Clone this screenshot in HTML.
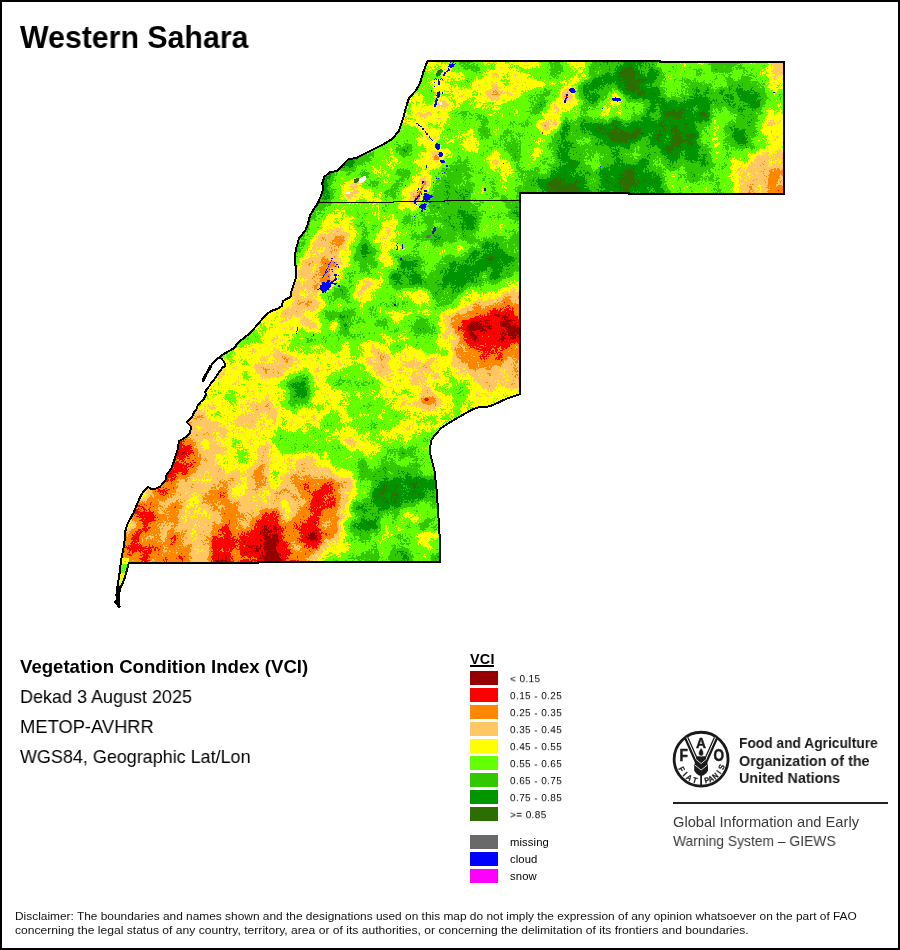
<!DOCTYPE html>
<html>
<head>
<meta charset="utf-8">
<title>Western Sahara - Vegetation Condition Index</title>
<style>
html,body{margin:0;padding:0;background:#fff;}
body{width:900px;height:950px;position:relative;overflow:hidden;font-family:"Liberation Sans",sans-serif;color:#000;}
.frame{position:absolute;left:0;top:0;width:900px;height:950px;box-sizing:border-box;border:2px solid #000;}
.t{position:absolute;white-space:nowrap;line-height:1;transform-origin:0 0;will-change:transform;}
#title{left:20px;top:22px;font-size:30.5px;font-weight:bold;transform:scaleX(0.993);}
.info{left:19.5px;font-size:18.6px;}
#i1{top:658px;font-weight:bold;}
#i2{top:688px;transform:scaleX(0.967);}
#i3{top:718px;transform:scaleX(0.986);}
#i4{top:748px;transform:scaleX(0.9655);}
#vci{left:470px;top:652px;font-size:14.4px;font-weight:bold;letter-spacing:0.25px;}
#vciu{position:absolute;left:470px;top:665.4px;width:23.7px;height:1.15px;background:#000;}
.sw{position:absolute;left:470px;width:28px;height:14px;}
.lb{left:509.6px;font-size:10px;letter-spacing:0.4px;transform:scaleY(0.9);}
.lb2{left:509.5px;font-size:11.3px;letter-spacing:0.1px;}
.fao{left:739px;font-size:15px;font-weight:bold;color:#1a1a1a;transform:scaleX(0.955);}
.giews{left:672.5px;font-size:14.4px;color:#3a3a3a;}
#rule{position:absolute;left:673px;top:802px;width:215px;height:2px;background:#222;}
.disc{left:15px;font-size:11.2px;color:#111;}
svg{position:absolute;left:0;top:0;}
</style>
</head>
<body>
<div class="frame"></div>

<div id="title" class="t">Western Sahara</div>

<svg width="900" height="950" viewBox="0 0 900 950">
<defs>
<clipPath id="terr"><path d="M427.5 61.0L660.0 61.0L660.0 62.0L784.0 62.0L784.0 194.0L629.0 194.0L629.0 193.0L520.0 193.0L520.0 394.2L512.9 396.6L505.6 399.1L498.2 402.7L490.9 405.8L486.0 407.0L478.7 407.3L473.8 408.8L468.9 411.3L461.6 415.6L454.2 419.8L446.9 424.1L440.8 428.4L437.1 432.7L433.4 437.0L431.0 440.6L430.4 446.1L429.6 451.0L431.0 457.1L432.8 464.5L434.7 471.8L436.7 491.0L438.2 513.0L439.6 535.5L440.4 553.0L440.4 562.0L258.0 562.0L258.0 563.0L128.9 563.0L127.1 569.1L125.3 576.2L123.1 582.4L120.9 587.0L119.7 591.0L118.7 597.0L118.9 603.0L119.3 607.2L118.0 606.6L117.3 603.6L115.0 602.2L116.9 599.5L116.4 595.0L117.0 590.0L117.7 585.1L118.6 579.8L119.9 570.9L120.8 562.0L121.7 556.7L123.5 547.8L124.8 538.9L125.3 531.0L127.8 523.3L133.3 513.3L137.8 502.2L142.2 493.3L147.8 486.7L151.1 488.9L155.0 488.9L160.0 486.7L165.6 480.0L166.7 474.4L171.1 468.9L174.4 460.0L177.8 448.9L178.9 441.1L183.3 438.9L190.0 433.3L191.1 426.7L186.7 422.2L189.8 419.1L192.4 416.4L194.2 412.0L196.9 408.4L197.8 405.3L200.4 402.2L204.0 398.7L205.8 395.1L205.3 391.6L206.7 389.3L209.3 386.2L211.1 382.7L213.8 380.0L216.4 376.4L219.1 372.0L222.7 367.6L225.3 365.8L224.4 362.2L221.8 359.1L219.5 357.3L221.8 355.1L228.0 351.6L235.0 347.5L236.0 345.3L241.3 340.0L250.0 333.3L253.3 329.4L257.8 324.4L263.3 317.8L267.8 313.3L272.2 310.6L278.9 308.3L282.2 305.6L282.8 301.1L287.8 298.3L290.9 296.7L291.1 292.2L293.3 285.6L295.6 278.9L296.1 274.4L296.1 267.8L295.0 263.3L295.0 255.6L296.1 247.8L297.8 243.3L298.9 238.3L302.2 234.4L305.6 230.0L307.8 224.4L310.0 215.6L313.3 210.0L317.8 203.3L321.1 195.6L323.3 188.9L322.2 183.3L324.4 176.7L330.0 172.2L336.7 171.1L343.3 164.4L347.8 159.6L356.7 157.8L370.0 151.1L383.3 144.4L392.2 138.9L398.9 131.1L403.3 117.8L405.6 108.9L409.0 97.8L415.5 91.0L420.0 83.3L423.3 72.2Z"/></clipPath>
<filter id="vcif" x="90" y="40" width="720" height="580" filterUnits="userSpaceOnUse" color-interpolation-filters="sRGB">
  <feGaussianBlur in="SourceGraphic" stdDeviation="3.6" result="b"/>
  <feTurbulence type="fractalNoise" baseFrequency="0.09" numOctaves="2" seed="11" result="t1"/>
  <feColorMatrix in="t1" type="matrix" values="1 0 0 0 0  1 0 0 0 0  1 0 0 0 0  0 0 0 0 1" result="n1"/>
  <feTurbulence type="fractalNoise" baseFrequency="0.55" numOctaves="2" seed="5" result="t2"/>
  <feColorMatrix in="t2" type="matrix" values="1 0 0 0 0  1 0 0 0 0  1 0 0 0 0  0 0 0 0 1" result="n2"/>
  <feComposite in="b" in2="n1" operator="arithmetic" k1="0" k2="1" k3="0.26" k4="-0.13" result="c1"/>
  <feComposite in="c1" in2="n2" operator="arithmetic" k1="0" k2="1" k3="0.18" k4="-0.09" result="c2"/>
  <feComponentTransfer in="c2">
    <feFuncR type="discrete" tableValues="0.5882 1.0000 1.0000 1.0000 1.0000 0.3922 0.1961 0.0000 0.1765"/>
    <feFuncG type="discrete" tableValues="0.0000 0.0000 0.5333 0.7843 1.0000 1.0000 0.7843 0.5882 0.4314"/>
    <feFuncB type="discrete" tableValues="0.0000 0.0000 0.0000 0.3922 0.0000 0.0000 0.0000 0.0000 0.0000"/>
    <feFuncA type="discrete" tableValues="1 1"/>
  </feComponentTransfer>
</filter>
</defs>
<g clip-path="url(#terr)">
<g filter="url(#vcif)">
<rect x="90" y="40" width="720" height="580" fill="#8e8e8e"/>
<path fill="#0e0e0e" d="M470 320h20v10h-20zM500 320h50v10h-50zM500 330h50v10h-50zM260 530h20v10h-20zM310 530h10v10h-10zM260 540h20v10h-20zM260 550h20v10h-20zM260 560h20v10h-20zM260 570h20v10h-20zM260 580h20v10h-20zM260 590h20v10h-20z"/>
<path fill="#2a2a2a" d="M470 310h80v10h-80zM460 320h10v10h-10zM490 320h10v10h-10zM460 330h40v10h-40zM470 340h40v10h-40zM490 350h10v10h-10zM150 440h40v10h-40zM140 450h50v10h-50zM160 460h30v10h-30zM160 470h10v10h-10zM160 480h10v10h-10zM320 480h10v10h-10zM310 490h30v10h-30zM320 500h10v10h-10zM140 510h10v10h-10zM260 510h20v10h-20zM300 510h20v10h-20zM140 520h10v10h-10zM250 520h30v10h-30zM300 520h20v10h-20zM130 530h10v10h-10zM220 530h10v10h-10zM240 530h20v10h-20zM300 530h10v10h-10zM130 540h10v10h-10zM210 540h50v10h-50zM280 540h10v10h-10zM300 540h20v10h-20zM140 550h10v10h-10zM210 550h20v10h-20zM240 550h20v10h-20zM280 550h10v10h-10zM140 560h10v10h-10zM210 560h20v10h-20zM240 560h20v10h-20zM280 560h10v10h-10zM210 570h20v10h-20zM240 570h20v10h-20zM280 570h10v10h-10zM210 580h20v10h-20zM240 580h20v10h-20zM280 580h10v10h-10zM210 590h20v10h-20zM240 590h20v10h-20zM280 590h10v10h-10z"/>
<path fill="#474747" d="M560 90h10v10h-10zM770 170h10v10h-10zM770 180h30v10h-30zM410 190h10v10h-10zM770 190h30v10h-30zM770 200h30v10h-30zM770 210h30v10h-30zM770 220h20v10h-20zM330 240h10v10h-10zM320 260h20v10h-20zM320 270h10v10h-10zM320 280h10v10h-10zM490 300h60v10h-60zM460 310h10v10h-10zM450 320h10v10h-10zM460 340h10v10h-10zM510 340h40v10h-40zM460 350h30v10h-30zM500 350h50v10h-50zM470 360h30v10h-30zM480 380h10v10h-10zM420 390h10v10h-10zM160 420h30v10h-30zM150 430h40v10h-40zM190 450h10v10h-10zM140 460h20v10h-20zM190 460h10v10h-10zM130 470h30v10h-30zM170 470h20v10h-20zM230 470h10v10h-10zM250 470h20v10h-20zM300 470h10v10h-10zM120 480h10v10h-10zM150 480h10v10h-10zM170 480h10v10h-10zM220 480h10v10h-10zM250 480h10v10h-10zM290 480h30v10h-30zM330 480h10v10h-10zM110 490h20v10h-20zM150 490h20v10h-20zM200 490h30v10h-30zM300 490h10v10h-10zM100 500h60v10h-60zM170 500h10v10h-10zM210 500h30v10h-30zM270 500h10v10h-10zM300 500h20v10h-20zM330 500h10v10h-10zM130 510h10v10h-10zM150 510h30v10h-30zM220 510h20v10h-20zM320 510h20v10h-20zM150 520h10v10h-10zM170 520h10v10h-10zM220 520h20v10h-20zM280 520h20v10h-20zM330 520h10v10h-10zM100 530h30v10h-30zM140 530h20v10h-20zM170 530h10v10h-10zM210 530h10v10h-10zM230 530h10v10h-10zM280 530h20v10h-20zM320 530h20v10h-20zM100 540h30v10h-30zM140 540h50v10h-50zM120 550h20v10h-20zM150 550h40v10h-40zM230 550h10v10h-10zM290 550h20v10h-20zM120 560h20v10h-20zM150 560h40v10h-40zM230 560h10v10h-10zM290 560h20v10h-20zM150 570h40v10h-40zM230 570h10v10h-10zM290 570h20v10h-20zM160 580h30v10h-30zM230 580h10v10h-10zM290 580h20v10h-20zM170 590h20v10h-20zM230 590h10v10h-10zM290 590h20v10h-20z"/>
<path fill="#636363" d="M770 50h30v10h-30zM770 60h30v10h-30zM770 70h30v10h-30zM490 80h10v10h-10zM490 90h10v10h-10zM440 100h10v10h-10zM420 110h10v10h-10zM550 110h10v10h-10zM540 120h20v10h-20zM770 120h10v10h-10zM430 150h10v10h-10zM760 150h40v10h-40zM750 160h50v10h-50zM420 170h10v10h-10zM740 170h30v10h-30zM780 170h20v10h-20zM350 180h10v10h-10zM420 180h10v10h-10zM740 180h30v10h-30zM350 190h10v10h-10zM740 190h30v10h-30zM740 200h30v10h-30zM740 210h30v10h-30zM740 220h30v10h-30zM320 230h30v10h-30zM380 230h10v10h-10zM310 240h20v10h-20zM340 240h10v10h-10zM310 250h30v10h-30zM300 260h20v10h-20zM300 270h20v10h-20zM330 270h10v10h-10zM260 280h60v10h-60zM360 280h10v10h-10zM290 290h30v10h-30zM360 290h10v10h-10zM500 290h50v10h-50zM290 300h30v10h-30zM470 300h20v10h-20zM280 310h30v10h-30zM450 310h10v10h-10zM310 320h10v10h-10zM440 320h10v10h-10zM440 330h20v10h-20zM450 340h10v10h-10zM270 350h20v10h-20zM370 350h20v10h-20zM450 350h10v10h-10zM250 360h50v10h-50zM370 360h20v10h-20zM400 360h30v10h-30zM450 360h20v10h-20zM500 360h50v10h-50zM220 370h10v10h-10zM260 370h20v10h-20zM380 370h10v10h-10zM410 370h30v10h-30zM470 370h80v10h-80zM500 380h50v10h-50zM260 390h10v10h-10zM430 390h10v10h-10zM250 400h20v10h-20zM420 400h20v10h-20zM160 410h50v10h-50zM240 410h40v10h-40zM190 420h30v10h-30zM230 420h30v10h-30zM190 430h40v10h-40zM190 440h10v10h-10zM210 440h10v10h-10zM260 440h10v10h-10zM350 440h10v10h-10zM200 450h20v10h-20zM260 450h10v10h-10zM200 460h20v10h-20zM250 460h20v10h-20zM290 460h30v10h-30zM190 470h10v10h-10zM210 470h20v10h-20zM280 470h20v10h-20zM310 470h30v10h-30zM130 480h20v10h-20zM180 480h40v10h-40zM260 480h10v10h-10zM280 480h10v10h-10zM340 480h10v10h-10zM130 490h10v10h-10zM170 490h20v10h-20zM240 490h20v10h-20zM270 490h30v10h-30zM340 490h10v10h-10zM160 500h10v10h-10zM180 500h10v10h-10zM200 500h10v10h-10zM240 500h10v10h-10zM260 500h10v10h-10zM290 500h10v10h-10zM340 500h10v10h-10zM120 510h10v10h-10zM180 510h10v10h-10zM200 510h20v10h-20zM240 510h20v10h-20zM290 510h10v10h-10zM130 520h10v10h-10zM160 520h10v10h-10zM180 520h40v10h-40zM240 520h10v10h-10zM320 520h10v10h-10zM160 530h10v10h-10zM180 530h30v10h-30zM190 540h20v10h-20zM290 540h10v10h-10zM320 540h10v10h-10zM110 550h10v10h-10zM190 550h20v10h-20zM310 550h10v10h-10zM190 560h20v10h-20zM310 560h10v10h-10zM140 570h10v10h-10zM190 570h20v10h-20zM310 570h10v10h-10zM150 580h10v10h-10zM190 580h20v10h-20zM310 580h10v10h-10zM160 590h10v10h-10zM190 590h20v10h-20zM310 590h10v10h-10z"/>
<path fill="#808080" d="M430 50h20v10h-20zM490 50h20v10h-20zM520 50h20v10h-20zM570 50h10v10h-10zM430 60h20v10h-20zM490 60h20v10h-20zM520 60h20v10h-20zM570 60h10v10h-10zM440 70h20v10h-20zM480 70h50v10h-50zM570 70h20v10h-20zM430 80h30v10h-30zM470 80h20v10h-20zM500 80h40v10h-40zM560 80h10v10h-10zM770 80h30v10h-30zM380 90h40v10h-40zM440 90h50v10h-50zM500 90h20v10h-20zM570 90h10v10h-10zM610 90h10v10h-10zM410 100h30v10h-30zM480 100h30v10h-30zM550 100h30v10h-30zM610 100h20v10h-20zM410 110h10v10h-10zM430 110h20v10h-20zM540 110h10v10h-10zM600 110h10v10h-10zM760 110h20v10h-20zM410 120h40v10h-40zM760 120h10v10h-10zM780 120h20v10h-20zM420 130h20v10h-20zM460 130h10v10h-10zM540 130h10v10h-10zM760 130h40v10h-40zM420 140h20v10h-20zM460 140h20v10h-20zM770 140h30v10h-30zM420 150h10v10h-10zM440 150h10v10h-10zM490 150h10v10h-10zM530 150h10v10h-10zM750 150h10v10h-10zM380 160h10v10h-10zM420 160h20v10h-20zM490 160h20v10h-20zM730 160h20v10h-20zM380 170h10v10h-10zM500 170h10v10h-10zM730 170h10v10h-10zM340 180h10v10h-10zM410 180h10v10h-10zM730 180h10v10h-10zM340 190h10v10h-10zM360 190h20v10h-20zM400 190h10v10h-10zM730 190h10v10h-10zM370 200h10v10h-10zM400 200h20v10h-20zM730 200h10v10h-10zM330 210h20v10h-20zM730 210h10v10h-10zM320 220h30v10h-30zM380 220h20v10h-20zM730 220h10v10h-10zM310 230h10v10h-10zM350 230h10v10h-10zM390 230h10v10h-10zM380 240h20v10h-20zM300 250h10v10h-10zM340 250h10v10h-10zM380 250h10v10h-10zM340 260h10v10h-10zM380 260h10v10h-10zM260 270h40v10h-40zM370 280h10v10h-10zM500 280h50v10h-50zM260 290h30v10h-30zM350 290h10v10h-10zM410 290h20v10h-20zM470 290h30v10h-30zM260 300h30v10h-30zM410 300h20v10h-20zM460 300h10v10h-10zM260 310h20v10h-20zM310 310h10v10h-10zM390 310h20v10h-20zM440 310h10v10h-10zM260 320h50v10h-50zM330 320h10v10h-10zM260 330h30v10h-30zM250 340h40v10h-40zM340 340h10v10h-10zM360 340h30v10h-30zM440 340h10v10h-10zM230 350h40v10h-40zM290 350h60v10h-60zM360 350h10v10h-10zM390 350h50v10h-50zM190 360h60v10h-60zM300 360h50v10h-50zM360 360h10v10h-10zM390 360h10v10h-10zM430 360h20v10h-20zM180 370h40v10h-40zM230 370h10v10h-10zM250 370h10v10h-10zM280 370h10v10h-10zM310 370h20v10h-20zM370 370h10v10h-10zM390 370h20v10h-20zM440 370h30v10h-30zM180 380h100v10h-100zM310 380h20v10h-20zM380 380h50v10h-50zM470 380h10v10h-10zM490 380h10v10h-10zM210 390h20v10h-20zM240 390h20v10h-20zM270 390h10v10h-10zM310 390h30v10h-30zM380 390h40v10h-40zM440 390h10v10h-10zM470 390h80v10h-80zM170 400h60v10h-60zM240 400h10v10h-10zM270 400h10v10h-10zM310 400h40v10h-40zM390 400h30v10h-30zM440 400h10v10h-10zM460 400h90v10h-90zM210 410h30v10h-30zM280 410h40v10h-40zM340 410h10v10h-10zM400 410h40v10h-40zM460 410h80v10h-80zM220 420h10v10h-10zM260 420h60v10h-60zM340 420h10v10h-10zM400 420h20v10h-20zM440 420h90v10h-90zM230 430h40v10h-40zM330 430h40v10h-40zM380 430h40v10h-40zM440 430h80v10h-80zM200 440h10v10h-10zM220 440h10v10h-10zM240 440h20v10h-20zM340 440h10v10h-10zM360 440h20v10h-20zM220 450h20v10h-20zM250 450h10v10h-10zM270 450h50v10h-50zM360 450h10v10h-10zM220 460h30v10h-30zM270 460h20v10h-20zM320 460h10v10h-10zM200 470h10v10h-10zM240 470h10v10h-10zM340 470h10v10h-10zM230 480h20v10h-20zM270 480h10v10h-10zM350 480h10v10h-10zM140 490h10v10h-10zM190 490h10v10h-10zM230 490h10v10h-10zM260 490h10v10h-10zM350 490h10v10h-10zM190 500h10v10h-10zM250 500h10v10h-10zM280 500h10v10h-10zM100 510h20v10h-20zM190 510h10v10h-10zM280 510h10v10h-10zM340 510h10v10h-10zM400 510h20v10h-20zM100 520h30v10h-30zM340 530h10v10h-10zM380 530h10v10h-10zM420 530h50v10h-50zM330 540h20v10h-20zM420 540h10v10h-10zM100 550h10v10h-10zM320 550h10v10h-10zM100 560h20v10h-20zM320 560h10v10h-10zM320 570h10v10h-10zM100 580h50v10h-50zM320 580h10v10h-10zM100 590h60v10h-60zM320 590h10v10h-10zM100 600h60v10h-60zM100 610h50v10h-50z"/>
<path fill="#9c9c9c" d="M400 50h30v10h-30zM450 50h10v10h-10zM480 50h10v10h-10zM510 50h10v10h-10zM540 50h10v10h-10zM560 50h10v10h-10zM580 50h10v10h-10zM660 50h50v10h-50zM740 50h30v10h-30zM390 60h40v10h-40zM450 60h10v10h-10zM480 60h10v10h-10zM510 60h10v10h-10zM540 60h10v10h-10zM560 60h10v10h-10zM580 60h10v10h-10zM660 60h50v10h-50zM740 60h30v10h-30zM390 70h50v10h-50zM460 70h20v10h-20zM530 70h20v10h-20zM560 70h10v10h-10zM660 70h80v10h-80zM750 70h20v10h-20zM380 80h50v10h-50zM460 80h10v10h-10zM540 80h20v10h-20zM570 80h10v10h-10zM660 80h30v10h-30zM710 80h10v10h-10zM760 80h10v10h-10zM420 90h20v10h-20zM520 90h20v10h-20zM550 90h10v10h-10zM670 90h10v10h-10zM770 90h30v10h-30zM370 100h40v10h-40zM450 100h30v10h-30zM510 100h20v10h-20zM600 100h10v10h-10zM630 100h10v10h-10zM760 100h40v10h-40zM370 110h40v10h-40zM450 110h10v10h-10zM470 110h60v10h-60zM560 110h40v10h-40zM610 110h20v10h-20zM710 110h20v10h-20zM780 110h20v10h-20zM370 120h40v10h-40zM450 120h30v10h-30zM490 120h20v10h-20zM520 120h20v10h-20zM710 120h20v10h-20zM370 130h50v10h-50zM440 130h20v10h-20zM470 130h10v10h-10zM490 130h20v10h-20zM520 130h20v10h-20zM700 130h30v10h-30zM370 140h30v10h-30zM410 140h10v10h-10zM440 140h20v10h-20zM480 140h20v10h-20zM520 140h30v10h-30zM580 140h10v10h-10zM700 140h30v10h-30zM750 140h20v10h-20zM370 150h30v10h-30zM410 150h10v10h-10zM450 150h40v10h-40zM500 150h10v10h-10zM520 150h10v10h-10zM540 150h10v10h-10zM590 150h10v10h-10zM630 150h10v10h-10zM710 150h40v10h-40zM360 160h20v10h-20zM390 160h30v10h-30zM440 160h10v10h-10zM470 160h20v10h-20zM510 160h40v10h-40zM590 160h10v10h-10zM650 160h10v10h-10zM720 160h10v10h-10zM340 170h20v10h-20zM370 170h10v10h-10zM390 170h10v10h-10zM410 170h10v10h-10zM430 170h10v10h-10zM470 170h30v10h-30zM510 170h10v10h-10zM660 170h20v10h-20zM720 170h10v10h-10zM330 180h10v10h-10zM360 180h10v10h-10zM380 180h10v10h-10zM400 180h10v10h-10zM470 180h50v10h-50zM670 180h60v10h-60zM330 190h10v10h-10zM380 190h10v10h-10zM420 190h10v10h-10zM470 190h50v10h-50zM670 190h60v10h-60zM330 200h40v10h-40zM380 200h20v10h-20zM420 200h10v10h-10zM480 200h20v10h-20zM670 200h60v10h-60zM320 210h10v10h-10zM350 210h70v10h-70zM480 210h30v10h-30zM670 210h60v10h-60zM310 220h10v10h-10zM350 220h30v10h-30zM420 220h10v10h-10zM480 220h60v10h-60zM670 220h60v10h-60zM370 230h10v10h-10zM400 230h20v10h-20zM470 230h40v10h-40zM300 240h10v10h-10zM350 240h10v10h-10zM370 240h10v10h-10zM400 240h30v10h-30zM440 240h40v10h-40zM370 250h10v10h-10zM390 250h10v10h-10zM410 250h50v10h-50zM260 260h40v10h-40zM350 260h10v10h-10zM390 260h10v10h-10zM420 260h20v10h-20zM340 270h50v10h-50zM510 270h40v10h-40zM330 280h10v10h-10zM350 280h10v10h-10zM380 280h10v10h-10zM480 280h10v10h-10zM250 290h10v10h-10zM320 290h10v10h-10zM370 290h40v10h-40zM460 290h10v10h-10zM240 300h20v10h-20zM320 300h90v10h-90zM430 300h30v10h-30zM230 310h30v10h-30zM360 310h30v10h-30zM410 310h30v10h-30zM220 320h40v10h-40zM320 320h10v10h-10zM350 320h20v10h-20zM390 320h20v10h-20zM430 320h10v10h-10zM210 330h50v10h-50zM290 330h50v10h-50zM350 330h70v10h-70zM200 340h50v10h-50zM290 340h50v10h-50zM350 340h10v10h-10zM390 340h50v10h-50zM190 350h40v10h-40zM350 350h10v10h-10zM440 350h10v10h-10zM350 360h10v10h-10zM240 370h10v10h-10zM290 370h10v10h-10zM330 370h40v10h-40zM280 380h10v10h-10zM330 380h50v10h-50zM430 380h40v10h-40zM170 390h40v10h-40zM230 390h10v10h-10zM280 390h10v10h-10zM340 390h40v10h-40zM450 390h20v10h-20zM230 400h10v10h-10zM280 400h30v10h-30zM350 400h40v10h-40zM450 400h10v10h-10zM320 410h20v10h-20zM350 410h50v10h-50zM440 410h20v10h-20zM320 420h20v10h-20zM350 420h50v10h-50zM420 420h20v10h-20zM270 430h60v10h-60zM370 430h10v10h-10zM420 430h20v10h-20zM230 440h10v10h-10zM270 440h70v10h-70zM380 440h90v10h-90zM240 450h10v10h-10zM320 450h40v10h-40zM370 450h20v10h-20zM420 450h50v10h-50zM330 460h30v10h-30zM370 460h10v10h-10zM400 460h10v10h-10zM420 460h50v10h-50zM270 470h10v10h-10zM350 470h10v10h-10zM360 480h10v10h-10zM360 490h10v10h-10zM420 500h50v10h-50zM380 510h20v10h-20zM420 510h50v10h-50zM340 520h10v10h-10zM380 520h40v10h-40zM390 530h30v10h-30zM350 540h50v10h-50zM410 540h10v10h-10zM430 540h40v10h-40zM330 550h30v10h-30zM380 550h10v10h-10zM410 550h20v10h-20zM330 560h30v10h-30zM380 560h10v10h-10zM410 560h20v10h-20zM100 570h40v10h-40zM330 570h30v10h-30zM380 570h10v10h-10zM410 570h20v10h-20zM330 580h30v10h-30zM380 580h10v10h-10zM410 580h20v10h-20zM330 590h30v10h-30zM380 590h10v10h-10zM410 590h20v10h-20z"/>
<path fill="#b8b8b8" d="M460 50h20v10h-20zM550 50h10v10h-10zM590 50h30v10h-30zM640 50h20v10h-20zM710 50h30v10h-30zM460 60h20v10h-20zM550 60h10v10h-10zM590 60h30v10h-30zM640 60h20v10h-20zM710 60h30v10h-30zM550 70h10v10h-10zM590 70h10v10h-10zM740 70h10v10h-10zM600 80h10v10h-10zM690 80h20v10h-20zM720 80h40v10h-40zM540 90h10v10h-10zM600 90h10v10h-10zM620 90h10v10h-10zM660 90h10v10h-10zM680 90h10v10h-10zM710 90h10v10h-10zM760 90h10v10h-10zM530 100h20v10h-20zM580 100h20v10h-20zM640 100h10v10h-10zM710 100h30v10h-30zM460 110h10v10h-10zM530 110h10v10h-10zM630 110h30v10h-30zM730 110h30v10h-30zM360 120h10v10h-10zM480 120h10v10h-10zM510 120h10v10h-10zM570 120h10v10h-10zM700 120h10v10h-10zM730 120h30v10h-30zM350 130h20v10h-20zM480 130h10v10h-10zM510 130h10v10h-10zM550 130h10v10h-10zM570 130h20v10h-20zM750 130h10v10h-10zM320 140h20v10h-20zM350 140h20v10h-20zM400 140h10v10h-10zM500 140h20v10h-20zM550 140h10v10h-10zM570 140h10v10h-10zM590 140h10v10h-10zM630 140h20v10h-20zM730 140h10v10h-10zM310 150h30v10h-30zM350 150h20v10h-20zM400 150h10v10h-10zM510 150h10v10h-10zM550 150h10v10h-10zM570 150h20v10h-20zM600 150h30v10h-30zM640 150h20v10h-20zM700 150h10v10h-10zM300 160h40v10h-40zM350 160h10v10h-10zM450 160h20v10h-20zM550 160h10v10h-10zM580 160h10v10h-10zM600 160h10v10h-10zM660 160h60v10h-60zM290 170h50v10h-50zM360 170h10v10h-10zM400 170h10v10h-10zM440 170h30v10h-30zM520 170h30v10h-30zM580 170h20v10h-20zM680 170h40v10h-40zM370 180h10v10h-10zM390 180h10v10h-10zM430 180h40v10h-40zM520 180h20v10h-20zM590 180h10v10h-10zM660 180h10v10h-10zM290 190h30v10h-30zM390 190h10v10h-10zM430 190h30v10h-30zM520 190h20v10h-20zM590 190h10v10h-10zM660 190h10v10h-10zM280 200h50v10h-50zM430 200h50v10h-50zM500 200h40v10h-40zM590 200h10v10h-10zM660 200h10v10h-10zM280 210h40v10h-40zM420 210h40v10h-40zM470 210h10v10h-10zM510 210h30v10h-30zM590 210h10v10h-10zM660 210h10v10h-10zM270 220h40v10h-40zM400 220h20v10h-20zM430 220h30v10h-30zM540 220h10v10h-10zM590 220h10v10h-10zM660 220h10v10h-10zM270 230h40v10h-40zM360 230h10v10h-10zM420 230h50v10h-50zM510 230h40v10h-40zM260 240h40v10h-40zM430 240h10v10h-10zM500 240h50v10h-50zM260 250h40v10h-40zM350 250h10v10h-10zM400 250h10v10h-10zM460 250h10v10h-10zM510 250h40v10h-40zM360 260h20v10h-20zM440 260h10v10h-10zM510 260h40v10h-40zM420 270h20v10h-20zM480 270h10v10h-10zM340 280h10v10h-10zM390 280h50v10h-50zM460 280h20v10h-20zM490 280h10v10h-10zM330 290h20v10h-20zM430 290h30v10h-30zM320 310h40v10h-40zM370 320h20v10h-20zM410 320h10v10h-10zM340 330h10v10h-10zM420 330h20v10h-20zM300 370h10v10h-10zM390 450h30v10h-30zM360 460h10v10h-10zM380 460h20v10h-20zM410 460h10v10h-10zM360 470h40v10h-40zM410 470h60v10h-60zM350 500h20v10h-20zM410 500h10v10h-10zM350 510h10v10h-10zM370 510h10v10h-10zM350 520h10v10h-10zM420 520h50v10h-50zM350 530h30v10h-30zM400 540h10v10h-10zM360 550h20v10h-20zM390 550h10v10h-10zM430 550h40v10h-40zM360 560h20v10h-20zM390 560h10v10h-10zM430 560h40v10h-40zM360 570h20v10h-20zM390 570h10v10h-10zM430 570h30v10h-30zM360 580h20v10h-20zM390 580h10v10h-10zM430 580h20v10h-20zM360 590h20v10h-20zM390 590h10v10h-10zM430 590h10v10h-10z"/>
<path fill="#d4d4d4" d="M620 50h20v10h-20zM620 60h20v10h-20zM600 70h20v10h-20zM640 70h20v10h-20zM580 80h20v10h-20zM610 80h10v10h-10zM640 80h20v10h-20zM580 90h20v10h-20zM640 90h20v10h-20zM690 90h20v10h-20zM720 90h40v10h-40zM650 100h60v10h-60zM740 100h20v10h-20zM680 110h30v10h-30zM560 120h10v10h-10zM580 120h120v10h-120zM340 130h10v10h-10zM560 130h10v10h-10zM590 130h10v10h-10zM640 130h30v10h-30zM690 130h10v10h-10zM730 130h20v10h-20zM340 140h10v10h-10zM560 140h10v10h-10zM600 140h30v10h-30zM650 140h20v10h-20zM690 140h10v10h-10zM740 140h10v10h-10zM340 150h10v10h-10zM560 150h10v10h-10zM660 150h40v10h-40zM340 160h10v10h-10zM560 160h20v10h-20zM610 160h40v10h-40zM550 170h30v10h-30zM600 170h20v10h-20zM640 170h20v10h-20zM290 180h40v10h-40zM540 180h10v10h-10zM580 180h10v10h-10zM600 180h20v10h-20zM630 180h30v10h-30zM320 190h10v10h-10zM460 190h10v10h-10zM540 190h10v10h-10zM580 190h10v10h-10zM600 190h20v10h-20zM630 190h30v10h-30zM540 200h10v10h-10zM580 200h10v10h-10zM600 200h20v10h-20zM630 200h30v10h-30zM460 210h10v10h-10zM540 210h10v10h-10zM580 210h10v10h-10zM600 210h20v10h-20zM630 210h30v10h-30zM460 220h20v10h-20zM580 220h10v10h-10zM600 220h20v10h-20zM630 220h30v10h-30zM360 240h10v10h-10zM480 240h20v10h-20zM360 250h10v10h-10zM470 250h40v10h-40zM400 260h20v10h-20zM450 260h60v10h-60zM390 270h30v10h-30zM440 270h40v10h-40zM490 270h20v10h-20zM440 280h20v10h-20zM340 320h10v10h-10zM420 320h10v10h-10zM290 380h20v10h-20zM290 390h20v10h-20zM400 470h10v10h-10zM370 480h100v10h-100zM370 490h20v10h-20zM400 490h70v10h-70zM370 500h10v10h-10zM390 500h20v10h-20zM360 510h10v10h-10zM360 520h20v10h-20zM400 550h10v10h-10zM400 560h10v10h-10zM400 570h10v10h-10zM400 580h10v10h-10zM400 590h10v10h-10z"/>
<path fill="#f1f1f1" d="M620 70h20v10h-20zM620 80h20v10h-20zM630 90h10v10h-10zM660 110h20v10h-20zM600 130h40v10h-40zM670 130h20v10h-20zM670 140h20v10h-20zM620 170h20v10h-20zM550 180h30v10h-30zM620 180h10v10h-10zM550 190h30v10h-30zM620 190h10v10h-10zM550 200h30v10h-30zM620 200h10v10h-10zM550 210h30v10h-30zM620 210h10v10h-10zM550 220h30v10h-30zM620 220h10v10h-10zM390 490h10v10h-10zM380 500h10v10h-10z"/>
</g>
<g shape-rendering="crispEdges">
<path fill="#ffff00" d="M122 558h7v6h-7zM120 573h4v4h-4zM119 577h4v3h-4zM118 580h4v4h-4zM123 566h1v1h-1zM122 569h1v2h-1z"/><path fill="#64ff00" d="M121 564h7v3h-7zM120 567h6v3h-6zM120 570h5v3h-5zM121 575h1v1h-1zM124 561h2v1h-2z"/><path fill="#009600" d="M440 69h2v1h-2zM438 70h5v1h-5zM437 71h6v1h-6zM437 72h5v1h-5zM436 73h5v1h-5zM436 74h5v1h-5zM437 75h3v1h-3zM437 76h1v1h-1z"/><path fill="#2d6e00" d="M356 178h3v1h-3zM354 179h5v1h-5zM354 180h5v1h-5zM354 181h4v1h-4zM354 182h3v1h-3zM438 70h3v1h-3zM438 71h3v1h-3zM437 72h3v1h-3zM436 73h4v1h-4zM436 74h2v1h-2zM436 75h1v1h-1z"/><path fill="#ff8800" d="M429 396h1v1h-1zM425 397h8v1h-8zM421 398h14v1h-14zM421 399h1v1h-1zM423 399h12v1h-12zM422 400h14v1h-14zM421 401h15v1h-15zM422 402h13v1h-13zM423 403h9v1h-9zM433 403h1v1h-1zM427 404h4v1h-4zM424 181h2v2h-2zM425 181h1v1h-1zM424 183h2v2h-2zM423 184h1v1h-1zM422 185h2v2h-2zM422 186h2v1h-2zM422 188h1v1h-1zM421 188h2v1h-2zM420 191h1v2h-1zM420 191h2v2h-2zM419 192h2v1h-2zM419 193h1v1h-1zM418 194h2v2h-2zM418 197h1v2h-1zM418 197h2v2h-2zM416 198h2v2h-2zM417 199h2v2h-2zM421 186h2v1h-2zM421 187h1v1h-1zM420 188h1v2h-1zM419 190h1v1h-1zM418 191h2v2h-2zM417 194h1v2h-1zM416 195h2v2h-2zM416 196h1v2h-1zM415 197h2v1h-2zM415 198h2v1h-2zM435 155h2v1h-2zM434 156h4v1h-4zM434 157h5v1h-5zM434 158h5v1h-5zM434 159h5v1h-5zM566 94h1v2h-1zM565 96h2v1h-2zM566 97h2v1h-2zM565 98h2v1h-2zM565 99h2v1h-2zM565 100h2v1h-2zM433 92h2v1h-2zM435 103h1v2h-1zM442 80h2v1h-2z"/><path fill="#ff0000" d="M425 398h3v1h-3zM424 399h5v1h-5zM425 400h3v1h-3zM422 187h1v1h-1zM421 188h1v1h-1zM421 189h1v1h-1zM420 191h1v1h-1zM420 192h1v1h-1zM419 193h1v1h-1zM419 194h1v1h-1zM417 196h1v1h-1zM566 96h1v1h-1zM566 97h1v1h-1zM565 99h1v1h-1zM542 132h1v2h-1z"/>
<path fill="#0000ff" d="M452 63h1v1h-1zM449 64h6v1h-6zM449 65h5v1h-5zM448 66h6v1h-6zM450 67h2v1h-2zM450 62h1v1h-1zM452 63h1v1h-1zM453 62h1v1h-1zM455 63h1v1h-1zM448 68h1v1h-1zM448 69h2v2h-2zM447 70h2v1h-2zM446 71h2v1h-2zM444 72h2v1h-2zM444 73h2v1h-2zM443 74h2v2h-2zM434 79h1v1h-1zM435 78h1v1h-1zM436 79h1v1h-1zM438 79h1v1h-1zM440 79h1v1h-1zM441 78h1v1h-1zM442 79h1v1h-1zM438 80h1v2h-1zM438 81h2v2h-2zM438 82h2v1h-2zM438 83h2v1h-2zM438 84h2v1h-2zM438 84h1v1h-1zM434 82h1v1h-1zM434 86h1v1h-1zM431 90h1v2h-1zM439 91h1v1h-1zM437 92h3v1h-3zM437 93h3v1h-3zM437 94h3v1h-3zM436 95h4v1h-4zM437 96h3v1h-3zM438 97h1v1h-1zM437 97h2v1h-2zM437 97h1v1h-1zM436 98h1v1h-1zM436 99h2v2h-2zM435 100h2v2h-2zM435 101h2v2h-2zM435 102h2v1h-2zM435 103h2v2h-2zM434 104h2v1h-2zM434 105h2v1h-2zM434 106h2v1h-2zM442 92h1v2h-1zM416 123h2v1h-2zM418 124h1v2h-1zM418 125h2v1h-2zM420 126h2v1h-2zM422 128h2v2h-2zM425 131h1v2h-1zM426 133h2v2h-2zM429 136h1v1h-1zM429 137h1v1h-1zM430 138h1v1h-1zM431 139h1v1h-1zM432 140h1v1h-1zM436 143h2v1h-2zM435 144h5v1h-5zM435 145h5v1h-5zM435 146h5v1h-5zM435 147h5v1h-5zM436 148h4v1h-4zM437 149h2v1h-2zM439 152h3v1h-3zM439 153h4v1h-4zM438 154h5v1h-5zM439 155h4v1h-4zM439 156h3v1h-3zM440 160h4v1h-4zM440 161h5v1h-5zM441 162h4v1h-4zM446 165h2v2h-2zM446 169h1v1h-1zM444 172h1v1h-1zM442 173h1v1h-1zM426 165h1v3h-1zM426 166h1v2h-1zM436 178h1v1h-1zM433 182h1v1h-1zM422 181h2v2h-2zM422 183h1v1h-1zM405 185h1v1h-1zM418 188h1v1h-1zM418 189h1v1h-1zM417 190h1v1h-1zM417 192h1v1h-1zM424 194h5v1h-5zM424 195h5v1h-5zM423 196h7v1h-7zM423 197h7v1h-7zM423 198h7v1h-7zM424 199h5v1h-5zM425 200h3v1h-3zM429 202h2v1h-2zM424 190h3v2h-3zM423 200h1v1h-1zM425 198h1v2h-1zM424 193h3v2h-3zM423 199h1v2h-1zM427 198h1v1h-1zM421 193h1v2h-1zM427 196h1v1h-1zM424 195h2v1h-2zM425 199h2v1h-2zM426 197h2v2h-2zM427 198h3v2h-3zM427 199h2v1h-2zM428 195h4v1h-4zM428 196h5v1h-5zM428 197h4v1h-4zM418 195h2v2h-2zM417 196h1v1h-1zM417 197h1v2h-1zM415 198h2v2h-2zM414 200h2v2h-2zM414 201h2v2h-2zM424 203h1v1h-1zM421 204h5v1h-5zM421 205h5v1h-5zM421 206h5v1h-5zM421 207h5v1h-5zM421 208h4v1h-4zM422 209h1v1h-1zM424 209h1v1h-1zM423 205h2v1h-2zM420 205h3v2h-3zM419 206h3v2h-3zM422 200h1v2h-1zM425 204h2v1h-2zM421 206h2v1h-2zM422 207h1v1h-1zM422 207h2v2h-2zM422 206h1v2h-1zM425 209h1v1h-1zM414 203h2v1h-2zM416 204h1v1h-1zM421 210h2v2h-2zM414 216h1v1h-1zM484 188h2v3h-2zM570 88h4v1h-4zM569 89h6v1h-6zM569 90h6v1h-6zM570 91h6v1h-6zM571 92h4v1h-4zM566 94h2v1h-2zM566 95h2v1h-2zM566 97h2v1h-2zM565 98h2v1h-2zM565 98h1v1h-1zM565 99h1v2h-1zM564 100h2v2h-2zM564 101h1v2h-1zM564 102h2v1h-2zM503 163h1v1h-1zM573 154h1v1h-1zM589 108h1v1h-1zM615 97h1v1h-1zM612 98h8v1h-8zM612 99h9v1h-9zM613 100h8v1h-8zM617 101h1v1h-1zM602 108h1v1h-1zM642 133h1v1h-1zM621 154h1v1h-1zM600 166h1v1h-1zM746 147h1v1h-1zM773 92h2v1h-2zM434 227h2v2h-2zM433 228h2v2h-2zM434 229h2v2h-2zM433 230h2v2h-2zM432 231h2v1h-2zM432 232h2v2h-2zM432 232h2v2h-2zM432 233h2v1h-2zM397 243h1v1h-1zM396 245h1v1h-1zM397 246h1v1h-1zM397 247h1v1h-1zM397 248h1v1h-1zM396 249h1v1h-1zM397 249h1v1h-1zM402 244h1v1h-1zM402 245h1v1h-1zM402 246h1v1h-1zM402 247h1v1h-1zM402 248h1v1h-1zM400 258h1v2h-1zM400 258h2v2h-2zM397 268h1v2h-1zM394 304h2v2h-2zM447 166h1v1h-1zM438 178h1v1h-1zM332 258h1v1h-1zM331 258h1v1h-1zM331 260h1v1h-1zM331 260h1v1h-1zM330 262h1v1h-1zM330 262h1v1h-1zM328 264h1v1h-1zM328 266h1v1h-1zM327 268h1v1h-1zM326 269h1v1h-1zM326 270h1v1h-1zM325 271h1v1h-1zM325 272h1v1h-1zM324 274h1v1h-1zM323 275h1v1h-1zM323 276h1v1h-1zM322 277h1v1h-1zM326 272h1v1h-1zM327 271h1v1h-1zM329 269h1v1h-1zM331 269h2v1h-2zM332 271h1v1h-1zM334 262h1v1h-1zM336 264h2v1h-2zM338 266h1v2h-1zM335 266h1v1h-1zM334 274h3v2h-3zM335 276h1v3h-1zM338 275h1v1h-1zM328 276h1v1h-1zM326 282h1v1h-1zM328 282h1v1h-1zM325 283h6v1h-6zM323 284h8v1h-8zM322 285h9v1h-9zM322 286h8v1h-8zM322 287h7v1h-7zM322 288h4v1h-4zM323 289h2v1h-2zM323 289h2v1h-2zM324 283h1v2h-1zM331 283h1v1h-1zM324 289h3v2h-3zM322 290h1v1h-1zM320 285h2v2h-2zM323 287h2v2h-2zM322 289h2v1h-2zM323 290h1v2h-1zM327 281h1v1h-1zM327 287h2v1h-2zM330 285h1v2h-1zM327 284h1v2h-1zM321 289h1v1h-1zM329 284h2v2h-2zM322 286h1v1h-1zM330 283h1v1h-1zM320 286h2v2h-2zM331 282h1v1h-1zM324 283h2v1h-2zM324 285h2v2h-2zM329 285h1v2h-1zM325 285h2v2h-2zM327 286h1v1h-1zM322 292h2v1h-2zM322 285h2v1h-2zM325 286h1v1h-1zM330 282h3v2h-3zM322 290h2v2h-2zM325 290h2v1h-2zM329 283h1v2h-1zM321 286h2v2h-2zM325 291h1v2h-1zM327 288h2v2h-2zM333 280h1v2h-1zM323 290h2v2h-2zM322 291h2v1h-2zM322 286h2v1h-2zM326 284h2v1h-2zM321 289h2v2h-2zM327 280h1v1h-1zM328 280h2v2h-2zM325 284h1v2h-1zM328 287h2v1h-2zM324 287h2v2h-2zM331 282h2v2h-2zM317 289h2v1h-2zM326 285h1v2h-1zM322 282h3v2h-3zM325 285h2v1h-2zM324 284h2v1h-2zM322 285h2v1h-2zM324 284h1v2h-1zM330 282h1v1h-1zM329 284h2v1h-2zM321 287h3v2h-3zM328 286h2v2h-2zM326 282h3v2h-3zM338 285h2v2h-2zM330 284h1v1h-1zM335 283h2v1h-2zM325 287h2v1h-2zM323 286h1v1h-1zM321 289h1v2h-1zM328 284h2v1h-2zM334 284h2v1h-2zM333 283h2v1h-2zM327 286h2v1h-2zM325 287h2v2h-2zM328 286h2v1h-2zM325 289h2v2h-2zM325 287h2v1h-2zM321 290h1v1h-1zM322 287h2v1h-2zM322 287h1v1h-1zM322 286h1v2h-1zM322 290h1v2h-1zM321 287h2v1h-2zM322 290h2v2h-2zM321 288h2v2h-2zM319 288h2v1h-2zM322 284h3v2h-3zM324 288h1v1h-1zM323 289h1v2h-1zM321 287h2v2h-2zM320 288h2v2h-2zM325 289h2v1h-2zM325 284h2v1h-2zM331 281h2v2h-2zM332 281h2v1h-2zM334 279h2v2h-2zM335 279h1v2h-1zM336 278h1v2h-1zM297 327h1v1h-1zM297 328h1v1h-1zM297 329h1v1h-1zM297 330h1v1h-1zM296 331h1v1h-1zM296 333h1v1h-1zM313 334h1v2h-1z"/>
<path fill="#696969" d="M427 235h4v1h-4zM426 236h5v1h-5zM426 237h4v1h-4z"/>
<path fill="#ffffff" d="M363 176h3v1h-3zM361 177h5v1h-5zM360 178h6v1h-6zM359 179h7v1h-7zM359 180h6v1h-6zM359 181h5v1h-5zM359 182h3v1h-3zM346 192h4v2h-4zM440 102h2v3h-2z"/>
</g>
</g>
<path d="M427.5 61.0L660.0 61.0L660.0 62.0L784.0 62.0L784.0 194.0L629.0 194.0L629.0 193.0L520.0 193.0L520.0 394.2L512.9 396.6L505.6 399.1L498.2 402.7L490.9 405.8L486.0 407.0L478.7 407.3L473.8 408.8L468.9 411.3L461.6 415.6L454.2 419.8L446.9 424.1L440.8 428.4L437.1 432.7L433.4 437.0L431.0 440.6L430.4 446.1L429.6 451.0L431.0 457.1L432.8 464.5L434.7 471.8L436.7 491.0L438.2 513.0L439.6 535.5L440.4 553.0L440.4 562.0L258.0 562.0L258.0 563.0L128.9 563.0L127.1 569.1L125.3 576.2L123.1 582.4L120.9 587.0L119.7 591.0L118.7 597.0L118.9 603.0L119.3 607.2L118.0 606.6L117.3 603.6L115.0 602.2L116.9 599.5L116.4 595.0L117.0 590.0L117.7 585.1L118.6 579.8L119.9 570.9L120.8 562.0L121.7 556.7L123.5 547.8L124.8 538.9L125.3 531.0L127.8 523.3L133.3 513.3L137.8 502.2L142.2 493.3L147.8 486.7L151.1 488.9L155.0 488.9L160.0 486.7L165.6 480.0L166.7 474.4L171.1 468.9L174.4 460.0L177.8 448.9L178.9 441.1L183.3 438.9L190.0 433.3L191.1 426.7L186.7 422.2L189.8 419.1L192.4 416.4L194.2 412.0L196.9 408.4L197.8 405.3L200.4 402.2L204.0 398.7L205.8 395.1L205.3 391.6L206.7 389.3L209.3 386.2L211.1 382.7L213.8 380.0L216.4 376.4L219.1 372.0L222.7 367.6L225.3 365.8L224.4 362.2L221.8 359.1L219.5 357.3L221.8 355.1L228.0 351.6L235.0 347.5L236.0 345.3L241.3 340.0L250.0 333.3L253.3 329.4L257.8 324.4L263.3 317.8L267.8 313.3L272.2 310.6L278.9 308.3L282.2 305.6L282.8 301.1L287.8 298.3L290.9 296.7L291.1 292.2L293.3 285.6L295.6 278.9L296.1 274.4L296.1 267.8L295.0 263.3L295.0 255.6L296.1 247.8L297.8 243.3L298.9 238.3L302.2 234.4L305.6 230.0L307.8 224.4L310.0 215.6L313.3 210.0L317.8 203.3L321.1 195.6L323.3 188.9L322.2 183.3L324.4 176.7L330.0 172.2L336.7 171.1L343.3 164.4L347.8 159.6L356.7 157.8L370.0 151.1L383.3 144.4L392.2 138.9L398.9 131.1L403.3 117.8L405.6 108.9L409.0 97.8L415.5 91.0L420.0 83.3L423.3 72.2Z" fill="none" stroke="#000" stroke-width="2" stroke-linejoin="round" shape-rendering="crispEdges"/>
<path d="M317 203H393V202H444V201H520" fill="none" stroke="#000" stroke-width="1" shape-rendering="crispEdges" transform="translate(0 -0.5)"/>
<path d="M120.2 586L118.4 592L117.3 596.5L117.4 600.5L118.6 604L119.2 607.2" fill="none" stroke="#000" stroke-width="3" stroke-linejoin="round" stroke-linecap="butt" shape-rendering="crispEdges"/>
<path d="M117 601.8L115 602.2" fill="none" stroke="#000" stroke-width="2"/>
<!-- Dakhla peninsula -->
<path d="M219.3 357.6L215.8 359.8L213 363L210.4 366.6" fill="none" stroke="#000" stroke-width="2.1" stroke-linecap="round" stroke-linejoin="round" shape-rendering="crispEdges"/>
<path d="M210.6 366.3L208.5 370.2L206.5 374L204.2 378L203 380.4" fill="none" stroke="#000" stroke-width="3" stroke-linecap="round" stroke-linejoin="round" shape-rendering="crispEdges"/>
<rect x="207" y="374" width="1" height="1" fill="#ff8800"/>
</svg>

<div id="i1" class="t info">Vegetation Condition Index (VCI)</div>
<div id="i2" class="t info">Dekad 3 August 2025</div>
<div id="i3" class="t info">METOP-AVHRR</div>
<div id="i4" class="t info">WGS84, Geographic Lat/Lon</div>

<div id="vci" class="t">VCI</div><div id="vciu"></div>
<div class="sw" style="top:671px;background:#960000"></div><div class="t lb" style="top:675.0px">&lt; 0.15</div>
<div class="sw" style="top:688px;background:#ff0000"></div><div class="t lb" style="top:692.0px">0.15 - 0.25</div>
<div class="sw" style="top:705px;background:#ff8800"></div><div class="t lb" style="top:709.0px">0.25 - 0.35</div>
<div class="sw" style="top:722px;background:#ffc864"></div><div class="t lb" style="top:726.0px">0.35 - 0.45</div>
<div class="sw" style="top:739px;background:#ffff00"></div><div class="t lb" style="top:743.0px">0.45 - 0.55</div>
<div class="sw" style="top:756px;background:#64ff00"></div><div class="t lb" style="top:760.0px">0.55 - 0.65</div>
<div class="sw" style="top:773px;background:#32c800"></div><div class="t lb" style="top:777.0px">0.65 - 0.75</div>
<div class="sw" style="top:790px;background:#009600"></div><div class="t lb" style="top:794.0px">0.75 - 0.85</div>
<div class="sw" style="top:807px;background:#2d6e00"></div><div class="t lb" style="top:811.0px">&gt;= 0.85</div>
<div class="sw" style="top:835px;background:#696969"></div><div class="t lb2" style="top:837px">missing</div>
<div class="sw" style="top:852px;background:#0000ff"></div><div class="t lb2" style="top:854px">cloud</div>
<div class="sw" style="top:869px;background:#ff00ff"></div><div class="t lb2" style="top:871px">snow</div>

<!-- FAO logo -->
<svg width="900" height="950" viewBox="0 0 900 950">
<g id="faologo">
<circle cx="701.1" cy="759.2" r="26.95" fill="#fff" stroke="#1a1a1a" stroke-width="2.8"/>
<g stroke-linecap="butt" fill="none">
<path d="M686.4 738.2L700.4 769.6M715.8 738.2L701.8 769.6" stroke="#1a1a1a" stroke-width="4.5"/>
<path d="M686.7 737.6L700.2 768M715.5 737.6L702 768" stroke="#fff" stroke-width="1.0"/>
</g>
<path d="M697 756.3L705.2 756.3L708 765.5L708 770.5Q705.5 775.6 701.1 775.8Q696.7 775.6 694.2 770.5L694.2 765.5Z" fill="#1a1a1a"/>
<path d="M695.8 759.2L701.1 763.6L706.4 759.2M694.8 765L701.1 770L707.4 765" stroke="#fff" stroke-width="0.8" fill="none"/>
<path d="M701.1 747.4Q704.1 751.6 703.7 753.6Q703.3 756.2 701.1 756.2Q698.9 756.2 698.5 753.6Q698.1 751.6 701.1 747.4Z" fill="#1a1a1a" stroke="#fff" stroke-width="0.7"/>
<path d="M701.1 773L701.1 785.6" stroke="#1a1a1a" stroke-width="1.8"/>
<g font-family="Liberation Sans, sans-serif" font-weight="bold" fill="#1a1a1a" stroke="#1a1a1a" stroke-linejoin="round">
<text transform="translate(679.5 760.6) scale(0.88 1)" font-size="15.6" stroke-width="0.55">F</text>
<text transform="translate(713.4 760.8) scale(0.86 1)" font-size="15.8" stroke-width="0.5">O</text>
<text transform="translate(701.1 748.1) scale(0.9 1)" font-size="15.4" text-anchor="middle" stroke-width="0.5">A</text>
<text transform="translate(681.71 769.16) rotate(62.8) scale(0.9 1)" font-size="8.0" text-anchor="middle" y="2.84" stroke-width="0.25">F</text>
<text transform="translate(685.18 774.10) rotate(46.9) scale(0.9 1)" font-size="8.0" text-anchor="middle" y="2.84" stroke-width="0.25">I</text>
<text transform="translate(689.19 777.46) rotate(33.1) scale(0.9 1)" font-size="8.0" text-anchor="middle" y="2.84" stroke-width="0.25">A</text>
<text transform="translate(694.84 780.08) rotate(16.7) scale(0.9 1)" font-size="8.0" text-anchor="middle" y="2.84" stroke-width="0.25">T</text>
<text transform="translate(706.89 780.22) rotate(-15.4) scale(0.9 1)" font-size="8.0" text-anchor="middle" y="2.84" stroke-width="0.25">P</text>
<text transform="translate(710.72 778.76) rotate(-26.2) scale(0.9 1)" font-size="8.0" text-anchor="middle" y="2.84" stroke-width="0.25">A</text>
<text transform="translate(715.20 775.83) rotate(-40.3) scale(0.9 1)" font-size="8.0" text-anchor="middle" y="2.84" stroke-width="0.25">N</text>
<text transform="translate(718.71 772.04) rotate(-53.9) scale(0.9 1)" font-size="8.0" text-anchor="middle" y="2.84" stroke-width="0.25">I</text>
<text transform="translate(721.45 767.01) rotate(-69.0) scale(0.9 1)" font-size="8.0" text-anchor="middle" y="2.84" stroke-width="0.25">S</text>
</g>
</g>
</svg>

<div class="t fao" id="f1" style="top:735.4px;transform:scaleX(0.918)">Food and Agriculture</div>
<div class="t fao" id="f2" style="top:752.7px">Organization of the</div>
<div class="t fao" id="f3" style="top:770.4px">United Nations</div>
<div id="rule"></div>
<div class="t giews" id="g1" style="top:815px;transform:scaleX(1.02)">Global Information and Early</div>
<div class="t giews" id="g2" style="top:834px;transform:scaleX(0.962)">Warning System &#8211; GIEWS</div>

<div class="t disc" id="d1" style="top:910.6px;transform:scaleX(1.0636)">Disclaimer: The boundaries and names shown and the designations used on this map do not imply the expression of any opinion whatsoever on the part of FAO</div>
<div class="t disc" id="d2" style="top:924.5px;transform:scaleX(1.082)">concerning the legal status of any country, territory, area or of its authorities, or concerning the delimitation of its frontiers and boundaries.</div>

</body>
</html>
